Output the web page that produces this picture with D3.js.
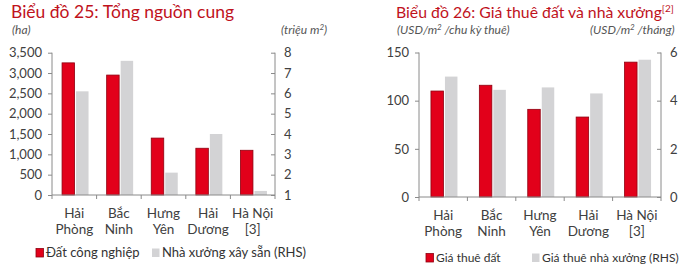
<!DOCTYPE html>
<meta charset="utf-8">
<style>
body { margin: 0; background: #fff; }
svg { font-family: Lato, "Open Sans", sans-serif; }
.title { fill: #c0121c; }
.unit { fill: #555; font-size: 12px; font-style: italic; }
.axis path, .axis line { stroke: #8a8a8a; }
.axis text { fill: #404040; font-size: 13px; font-family: Lato, sans-serif; }
.cat { fill: #404040; font-size: 13.5px; }
.legend { fill: #333; }
.red { fill: #e2001a; stroke: #8f0010; stroke-width: 0.8; }
.grey { fill: #d3d3d5; }
</style>
<body>
<script src="https://cdn.jsdelivr.net/npm/d3@7"></script>
<script>

// data
var provinces = [["Hải", "Phòng"], ["Bắc", "Ninh"], ["Hưng", "Yên"], ["Hải", "Dương"], ["Hà Nội", "[3]"]];

var landSupply = [3250, 2950, 1400, 1150, 1100];   // ha
var factorySupply = [6.1, 7.6, 2.1, 4.0, 1.2];     // trieu m2 (RHS)
var landTicks = [0, 500, 1000, 1500, 2000, 2500, 3000, 3500];
var supplyTicks = [1, 2, 3, 4, 5, 6, 7, 8];

var landRent = [110, 116, 91, 83, 140];            // USD/m2/chu ky thue
var factoryRent = [5.0, 4.45, 4.55, 4.3, 5.7];     // USD/m2/thang (RHS)
var rentTicks = [0, 50, 100, 150];
var factoryRentTicks = [0, 2, 4, 6];

var svg = d3.select("body").append("svg")
    .attr("width", 698)
    .attr("height", 277);

// text with a superscript "2" after part a
function unitText(g, x, a, b) {
  var t = g.append("text").attr("class", "unit").attr("x", x).attr("y", 34).text(a);
  if (b !== undefined) {
    t.append("tspan").attr("dy", -4).attr("font-size", 8).text("2");
    t.append("tspan").attr("dy", 4).text(b);
  }
}

function drawChart(o) {
  var g = svg.append("g");

  var x = d3.scaleBand().domain(d3.range(provinces.length)).range([o.x0, o.x1]);
  var yL = d3.scaleLinear().domain(o.leftDomain).range([o.y0, o.y1]);
  var yR = d3.scaleLinear().domain(o.rightDomain).range([o.y0, o.y1]);

  // title + units
  var t = g.append("text").attr("class", "title").attr("x", o.titleX).attr("y", 18)
      .attr("font-size", o.titleSize).text(o.title);
  if (o.titleSup) t.append("tspan").attr("dy", -6).attr("font-size", 10).text(o.titleSup);

  unitText(g, o.unitLX, o.unitL[0], o.unitL[1]);
  unitText(g, o.unitRX, o.unitR[0], o.unitR[1]);

  var bw = 12.5, gap = 1.5;
  var off = (x.bandwidth() - (2 * bw + gap)) / 2 + 1;

  // bars
  g.selectAll(".red").data(o.redVals).enter().append("rect")
      .attr("class", "red")
      .attr("x", function(d, i) { return x(i) + off; })
      .attr("width", bw)
      .attr("y", function(d) { return yL(d); })
      .attr("height", function(d) { return o.y0 - yL(d); });

  g.selectAll(".grey").data(o.greyVals).enter().append("rect")
      .attr("class", "grey")
      .attr("x", function(d, i) { return x(i) + off + bw + gap; })
      .attr("width", bw)
      .attr("y", function(d) { return yR(d); })
      .attr("height", function(d) { return o.y0 - yR(d); });

  // left axis
  g.append("g").attr("class", "axis")
      .attr("transform", "translate(" + o.x0 + ",0)")
      .call(d3.axisLeft(yL).tickValues(o.leftTicks).tickSize(4).tickSizeOuter(0).tickPadding(6).tickFormat(d3.format(",")))
      .select(".domain").attr("d", "M0," + o.y0 + "V" + o.y1);

  // right axis (ticks inward, labels outside)
  var ra = g.append("g").attr("class", "axis")
      .attr("transform", "translate(" + o.x1 + ",0)")
      .call(d3.axisRight(yR).tickValues(o.rightTicks).tickSize(0).tickPadding(9).tickFormat(d3.format("d")));
  ra.select(".domain").attr("d", "M0," + o.y0 + "V" + o.y1);
  ra.selectAll(".tick line").attr("x2", -4);

  // x axis with ticks at band edges
  var edges = d3.range(provinces.length + 1).map(function(i) { return o.x0 + i * x.step(); });
  g.append("line").attr("x1", o.x0).attr("x2", o.x1).attr("y1", o.y0).attr("y2", o.y0).attr("stroke", "#8a8a8a");
  g.selectAll(".xt").data(edges).enter().append("line")
      .attr("x1", function(d) { return d; }).attr("x2", function(d) { return d; })
      .attr("y1", o.y0).attr("y2", o.y0 + 4).attr("stroke", "#8a8a8a");

  // category labels
  provinces.forEach(function(p, i) {
    var cx = x(i) + x.bandwidth() / 2;
    p.forEach(function(s, j) {
      g.append("text").attr("class", "cat").attr("text-anchor", "middle")
          .attr("x", cx).attr("y", o.y0 + 23 + j * 16).text(s);
    });
  });

  // legend
  var ly = o.legendY;
  g.append("rect").attr("class", "red").attr("x", o.legX[0]).attr("y", ly - 8.5).attr("width", 7.5).attr("height", 8.5);
  g.append("text").attr("class", "legend").attr("font-size", o.legendSize)
      .attr("x", o.legX[0] + 10).attr("y", ly).text(o.legend[0]);
  g.append("rect").attr("class", "grey").attr("x", o.legX[1]).attr("y", ly - 8.5).attr("width", 7.5).attr("height", 8.5);
  g.append("text").attr("class", "legend").attr("font-size", o.legendSize)
      .attr("x", o.legX[1] + 10).attr("y", ly).text(o.legend[1]);
}

drawChart({
  title: "Biểu đồ 25: Tổng nguồn cung", titleX: 11, titleSize: 17.5,
  unitL: ["(ha)"], unitLX: 12,
  unitR: ["(triệu m", ")"], unitRX: 281,
  x0: 52, x1: 275, y0: 195, y1: 52.7,
  leftDomain: [0, 3500], rightDomain: [1, 8],
  leftTicks: landTicks, rightTicks: supplyTicks,
  redVals: landSupply, greyVals: factorySupply,
  legendY: 257, legX: [36, 152], legendSize: 13,
  legend: ["Đất công nghiệp", "Nhà xưởng xây sẵn (RHS)"]
});

drawChart({
  title: "Biểu đồ 26: Giá thuê đất và nhà xưởng", titleSup: "[2]", titleX: 396, titleSize: 15.8,
  unitL: ["(USD/m", " /chu kỳ thuê)"], unitLX: 397,
  unitR: ["(USD/m", " /tháng)"], unitRX: 590,
  x0: 419, x1: 661, y0: 197, y1: 52.5,
  leftDomain: [0, 150], rightDomain: [0, 6],
  leftTicks: rentTicks, rightTicks: factoryRentTicks,
  redVals: landRent, greyVals: factoryRent,
  legendY: 262, legX: [426, 532], legendSize: 12,
  legend: ["Giá thuê đất", "Giá thuê nhà xưởng (RHS)"]
});

</script>
</body>
